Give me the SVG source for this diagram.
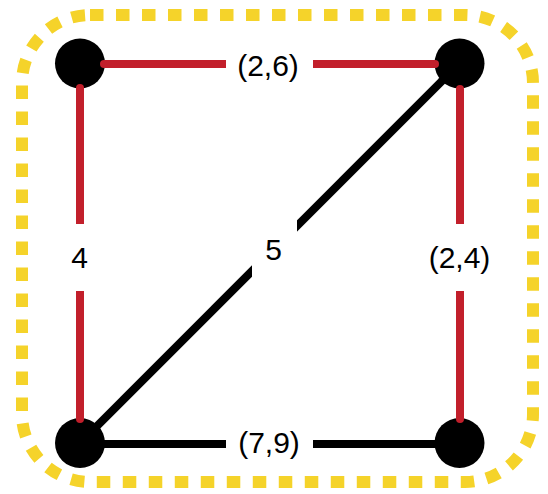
<svg xmlns="http://www.w3.org/2000/svg" width="548" height="494" viewBox="0 0 548 494">
<style>
.node{fill:#000}
.e{stroke-width:8;stroke-linecap:round;fill:none}
.red{stroke:#C21F2B}
.blk{stroke:#000}
.bg{fill:#fff}
.lbl{font-family:"Liberation Sans",Arial,sans-serif;font-size:30px;fill:#000;text-anchor:middle}
</style>
<rect id="frame" x="22" y="15" width="511" height="467" rx="68" ry="68" fill="none" stroke="#F5D32A" stroke-width="12" stroke-dasharray="13.5 12.5"/>
<g id="n1"><circle class="node" cx="80" cy="63.5" r="25"/></g>
<g id="n2"><circle class="node" cx="459.5" cy="63.5" r="25"/></g>
<g id="n3"><circle class="node" cx="80" cy="443" r="25"/></g>
<g id="n4"><circle class="node" cx="459.5" cy="443" r="25"/></g>
<g id="connectors">
<line class="e red" x1="104" y1="64" x2="435" y2="64"/>
<line class="e red" x1="80" y1="88" x2="80" y2="419"/>
<line class="e red" x1="460" y1="89" x2="460" y2="419"/>
<line class="e blk" x1="104" y1="444" x2="435" y2="444"/>
<line class="e blk" x1="97.7" y1="425.3" x2="441.8" y2="81.2"/>
</g>
<g id="labels">
<rect class="bg" x="226" y="44" width="87" height="41"/>
<text class="lbl" x="268" y="76">(2,6)</text>
<rect class="bg" x="57.5" y="224" width="45" height="67"/>
<text class="lbl" x="79.5" y="268">4</text>
<rect class="bg" x="437" y="224" width="45" height="67"/>
<text class="lbl" x="459.5" y="268">(2,4)</text>
<rect class="bg" x="252" y="215" width="45" height="67"/>
<text class="lbl" x="273.5" y="260">5</text>
<rect class="bg" x="226" y="423" width="87" height="41"/>
<text class="lbl" x="269" y="453">(7,9)</text>
</g>
</svg>
